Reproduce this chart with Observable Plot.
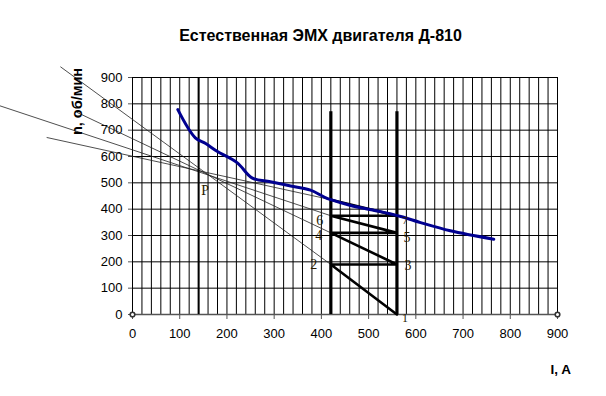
<!DOCTYPE html>
<html><head><meta charset="utf-8">
<script src="https://cdn.jsdelivr.net/npm/d3@7"></script>
<script src="https://cdn.jsdelivr.net/npm/@observablehq/plot@0.6"></script>
<style>body{margin:0;background:#fff}</style>
</head><body><div id="chart"></div>
<script>
// Natural electromechanical characteristic (current I, A vs speed n, rpm)
const curveI = [96, 133, 155, 179, 222, 253, 292, 335, 377, 406, 420, 462, 519, 568, 610, 673, 765];
const curveN = [778, 671, 649, 620, 576, 519, 504, 488, 472, 446, 436, 414, 393, 372, 349, 318, 286];
// Starting rheostat steps path 1-2-3-4-5-6-7-(curve)
const stepI = [560, 420, 560, 420, 560, 420, 560, 420];
const stepN = [0, 190, 190, 310, 310, 375, 375, 436];
// Construction rays through point P
const rayId = ["A", "A", "B", "B", "C", "C", "D", "D"];
const rayI = [-152, 420, -117, 420, -280, 420, -181, 420];
const rayN = [940, 190, 767, 310, 792, 375, 672, 436];
// Labelled points
const pointLabels = ["1", "2", "3", "4", "5", "6", "7", "P"];
const pointI = [560, 420, 560, 420, 560, 420, 560, 158];
const pointN = [0, 190, 190, 310, 310, 375, 375, 533];
// Vertical limit lines
const limitI = [140, 420, 560];
const limitTop = [900, 770, 770];
// Axis ticks & grid
const xTicks = [0, 100, 200, 300, 400, 500, 600, 700, 800, 900];
const yTicks = [0, 100, 200, 300, 400, 500, 600, 700, 800, 900];
const xGrid = d3.range(0, 901, 20);
const endMarksI = [0, 900];
const endMarksN = [0, 0];

const title = "Естественная ЭМХ двигателя Д-810";
const yLabel = "n, об/мин";
const xLabel = "I, A";

const curve = curveI.map((I, i) => ({I, n: curveN[i]}));
const steps = stepI.map((I, i) => ({I, n: stepN[i]}));
const rays = rayI.map((I, i) => ({id: rayId[i], I, n: rayN[i]}));
const limits = limitI.map((I, i) => ({I, top: limitTop[i]}));
const pts = pointLabels.map((label, i) => ({label, I: pointI[i], n: pointN[i]}));
const ends = endMarksI.map((I, i) => ({I, n: endMarksN[i]}));

const labelOffset = {
  "1": [8, 4], "2": [-17, 0], "3": [11, 1], "4": [-12, 3],
  "5": [10, 5], "6": [-11, 5], "7": [8, 5], "P": [-2, 16]
};

const serif = "'Liberation Serif', 'Times New Roman', serif";

const chart = Plot.plot({
  width: 606, height: 396,
  marginLeft: 132, marginRight: 49, marginTop: 77, marginBottom: 82,
  x: {domain: [0, 900]},
  y: {domain: [0, 900]},
  style: {fontFamily: "'Liberation Sans', Arial, sans-serif", background: "white", color: "#000"},
  marks: [
    Plot.ruleX(xGrid, {y1: 0, y2: 900, stroke: "#000", strokeWidth: 1}),
    Plot.ruleY(yTicks, {x1: 0, x2: 900, stroke: "#000", strokeWidth: 1}),
    Plot.ruleY([0], {x1: 0, x2: 900, stroke: "#555", strokeWidth: 1.3}),
    Plot.axisX(xTicks, {anchor: "bottom", tickSize: 5, tickPadding: 9, fontSize: 13, label: null, stroke: "#555"}),
    Plot.axisY(yTicks, {anchor: "left", tickSize: 4, tickPadding: 6, fontSize: 13, label: null, stroke: "#555"}),
    Plot.line(rays, {x: "I", y: "n", z: "id", stroke: "#222", strokeWidth: 0.8}),
    Plot.ruleX(limits.slice(0, 1), {x: "I", y1: 0, y2: "top", stroke: "#000", strokeWidth: 2}),
    Plot.ruleX(limits.slice(1), {x: "I", y1: 0, y2: "top", stroke: "#000", strokeWidth: 3.2}),
    Plot.line(steps, {x: "I", y: "n", stroke: "#000", strokeWidth: 2.6, strokeLinejoin: "miter"}),
    Plot.line(curve, {x: "I", y: "n", stroke: "#000090", strokeWidth: 3, curve: "catmull-rom"}),
    Plot.dot(ends, {x: "I", y: "n", r: 2.3, stroke: "#333", fill: "#fff", strokeWidth: 1.6}),
    ...pts.map(p => Plot.text([p], {
      x: "I", y: "n", text: "label",
      dx: labelOffset[p.label][0], dy: labelOffset[p.label][1],
      fontFamily: serif, fontSize: p.label === "1" ? 12 : (p.label === "7" ? 11 : 14), fill: "#2a1a00"
    })),
    Plot.text([title], {frameAnchor: "top-left", dx: 188, dy: -48, text: d => d,
      fontSize: 16, fontWeight: "bold", textAnchor: "middle", fill: "#000"}),
    Plot.text([yLabel], {frameAnchor: "top-left", dx: -61, dy: 24, text: d => d, rotate: -90,
      fontSize: 14.5, fontWeight: "bold", textAnchor: "middle", fill: "#000"}),
    Plot.text([xLabel], {frameAnchor: "bottom-right", dx: -7, dy: 59, text: d => d,
      fontSize: 13.5, fontWeight: "bold", textAnchor: "start", fill: "#000"})
  ]
});
document.getElementById("chart").appendChild(chart);
</script>
</body></html>
